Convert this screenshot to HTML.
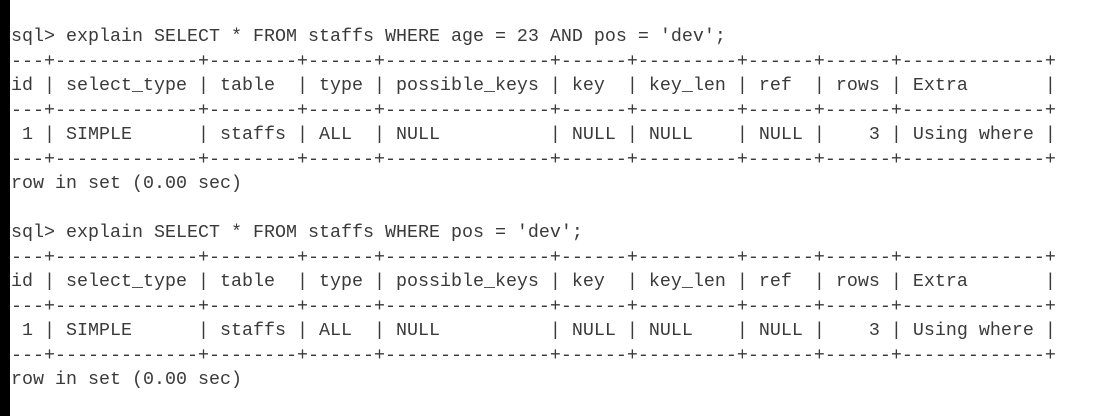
<!DOCTYPE html>
<html><head><meta charset="utf-8"><style>
html,body{margin:0;padding:0;background:#fff;}
body{width:1115px;height:416px;overflow:hidden;position:relative;}
pre{position:absolute;left:-11px;top:25px;margin:0;font-family:"Liberation Mono",monospace;font-size:18.33px;line-height:24.5px;color:#3a3a3a;white-space:pre;}
.strip{position:absolute;left:0;top:0;width:10px;height:416px;background:#000;}
</style></head><body>
<pre>mysql> explain SELECT * FROM staffs WHERE age = 23 AND pos = 'dev';
+----+-------------+--------+------+---------------+------+---------+------+------+-------------+
| id | select_type | table  | type | possible_keys | key  | key_len | ref  | rows | Extra       |
+----+-------------+--------+------+---------------+------+---------+------+------+-------------+
|  1 | SIMPLE      | staffs | ALL  | NULL          | NULL | NULL    | NULL |    3 | Using where |
+----+-------------+--------+------+---------------+------+---------+------+------+-------------+
1 row in set (0.00 sec)

mysql> explain SELECT * FROM staffs WHERE pos = 'dev';
+----+-------------+--------+------+---------------+------+---------+------+------+-------------+
| id | select_type | table  | type | possible_keys | key  | key_len | ref  | rows | Extra       |
+----+-------------+--------+------+---------------+------+---------+------+------+-------------+
|  1 | SIMPLE      | staffs | ALL  | NULL          | NULL | NULL    | NULL |    3 | Using where |
+----+-------------+--------+------+---------------+------+---------+------+------+-------------+
1 row in set (0.00 sec)</pre>
<div class="strip"></div>
</body></html>
